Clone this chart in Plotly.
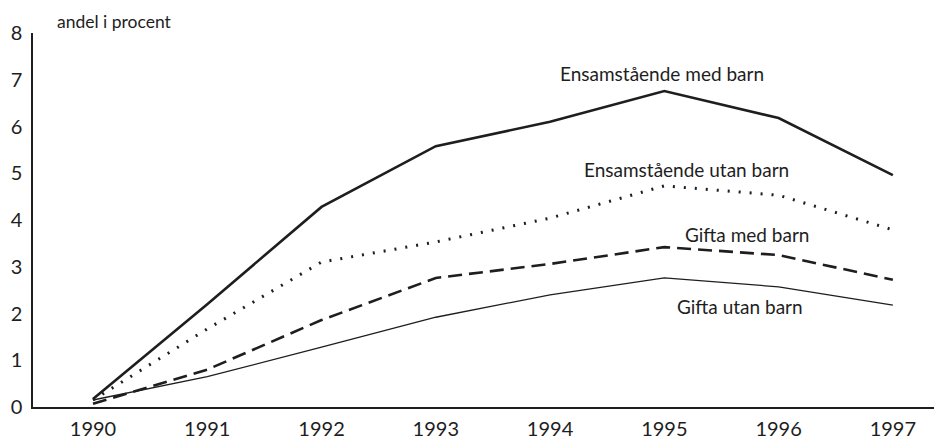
import plotly.graph_objects as go

years = [1990, 1991, 1992, 1993, 1994, 1995, 1996, 1997]
ensamstaende_med_barn = [0.17, 2.2, 4.28, 5.58, 6.1, 6.76, 6.18, 4.96]
ensamstaende_utan_barn = [0.15, 1.67, 3.1, 3.53, 4.04, 4.73, 4.53, 3.79]
gifta_med_barn = [0.07, 0.8, 1.86, 2.76, 3.06, 3.42, 3.25, 2.72]
gifta_utan_barn = [0.15, 0.65, 1.28, 1.92, 2.4, 2.76, 2.57, 2.18]

series_names = ["Ensamstående med barn", "Ensamstående utan barn", "Gifta med barn", "Gifta utan barn"]
label_x = [1994.98, 1995.19, 1995.72, 1995.66]
label_y = [7.14, 5.07, 3.7, 2.14]

ink = "#1e1e1e"
font_family = "Lato, 'Open Sans', sans-serif"

fig = go.Figure()
styles = [
    (ensamstaende_med_barn, dict(color=ink, width=2.6)),
    (ensamstaende_utan_barn, dict(color=ink, width=3, dash="2px,9px")),
    (gifta_med_barn, dict(color=ink, width=2.6, dash="14px,7px")),
    (gifta_utan_barn, dict(color=ink, width=1.3)),
]
for (vals, line), name in zip(styles, series_names):
    fig.add_trace(go.Scatter(x=years, y=vals, mode="lines", line=line, name=name,
                             showlegend=False, hoverinfo="skip"))

for name, lx, ly in zip(series_names, label_x, label_y):
    fig.add_annotation(x=lx, y=ly, text=name, showarrow=False,
                       font=dict(family=font_family, size=19, color=ink),
                       xanchor="center", yanchor="middle")

fig.add_annotation(xref="x", yref="paper", x=1990.19, y=1.03, text="andel i procent",
                   showarrow=False, xanchor="center", yanchor="middle",
                   font=dict(family=font_family, size=17.5, color=ink))

fig.update_layout(
    width=934, height=431,
    margin=dict(l=25, r=0, t=25, b=32, autoexpand=False),
    paper_bgcolor="white", plot_bgcolor="white",
    font=dict(family=font_family, color=ink),
)
fig.update_xaxes(range=[1989.475, 1997.43], tickvals=years, ticktext=[str(y) for y in years],
                 showgrid=False, zeroline=False, showline=True, linecolor=ink, linewidth=1.5,
                 ticks="", tickfont=dict(size=20, family=font_family, color=ink),
                 ticklabelstandoff=3, automargin=False)
fig.update_yaxes(range=[0, 8], tickvals=list(range(0, 9)), showgrid=False, zeroline=False,
                 showline=True, linecolor=ink, linewidth=1.5, ticks="",
                 tickfont=dict(size=20, family=font_family, color=ink),
                 ticklabelstandoff=5, automargin=False)

fig.write_html("out.html")
